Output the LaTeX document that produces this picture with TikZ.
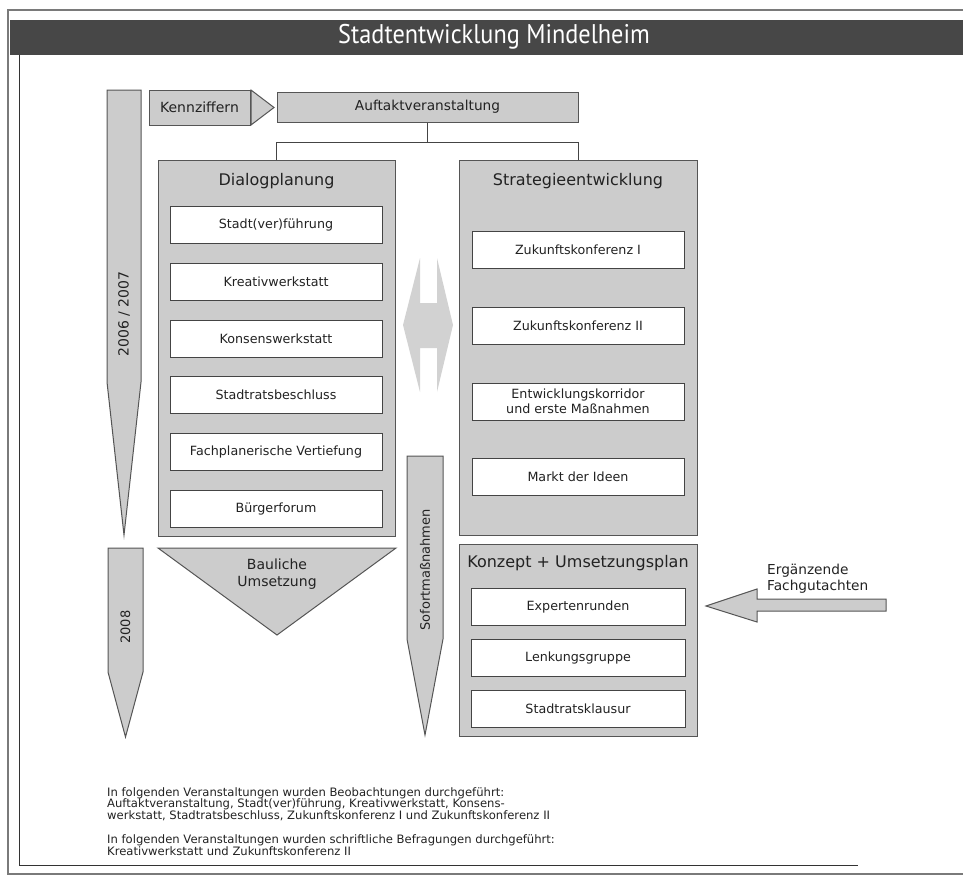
\documentclass[tikz,border=0pt]{standalone}
\usepackage{fontspec}
\setmainfont{DejaVu Sans}
\newfontfamily\titlefont[FakeStretch=0.9]{PT Sans}
\definecolor{boxgray}{HTML}{CCCCCC}
\definecolor{edgec}{HTML}{555555}
\definecolor{titlebg}{HTML}{474747}
\definecolor{framec}{HTML}{7A7A7A}
\definecolor{txt}{HTML}{222222}
\definecolor{dblc}{HTML}{D2D2D2}
\begin{document}
\begin{tikzpicture}[x=1pt,y=-1pt,
  graybox/.style={draw=edgec, fill=boxgray, line width=1pt, inner sep=0pt},
  whitebox/.style={draw=edgec!80!black, fill=white, line width=1pt, minimum width=212pt, minimum height=37pt, inner sep=0pt, font=\fontsize{12.7}{15}\selectfont, text=txt, align=center},
  header/.style={font=\fontsize{16}{19}\selectfont, text=txt, inner sep=0pt},
  label/.style={text=txt, inner sep=0pt},
  shapeline/.style={draw=edgec, fill=boxgray, line width=1pt, line join=miter},
  conn/.style={draw=edgec!80!black, line width=1pt}
]
\useasboundingbox (0,0) rectangle (963,876);
% frame
\fill[titlebg] (10,20) rectangle (963,55);
\draw[framec, line width=2pt] (963,10) -- (8,10) -- (8,874) -- (963,874);
\draw[edgec!60!black, line width=1pt] (19,55) -- (19,865) -- (858,865);
\node[text=white, font=\titlefont\fontsize{27}{30}\selectfont, inner sep=0pt] (title) at (494,37) {Stadtentwicklung Mindelheim};

% timeline arrows
\path[shapeline] (107,90) -- (141,90) -- (141,382) -- (124,535) -- (107,382) -- cycle;
\node[label, rotate=90, font=\fontsize{14}{16}\selectfont] (y1) at (124,314) {2006 / 2007};
\path[shapeline] (108,548) -- (143,548) -- (143,672) -- (125.5,737) -- (108,672) -- cycle;
\node[label, rotate=90, font=\fontsize{13}{15}\selectfont] (y2) at (125.5,627) {2008};
\path[shapeline] (407,456) -- (443,456) -- (443,639) -- (425,735) -- (407,639) -- cycle;
\node[label, rotate=90, font=\fontsize{13}{15}\selectfont] (sofort) at (425,570) {Sofortmaßnahmen};

% top row
\node[graybox, minimum width=101pt, minimum height=35pt, font=\fontsize{14}{17}\selectfont, text=txt] (kenn) at (199.5,107.5) {Kennziffern};
\path[shapeline] (251,90) -- (274,107.5) -- (251,125) -- cycle;
\node[graybox, minimum width=301pt, minimum height=30pt, font=\fontsize{13.7}{16}\selectfont, text=txt] (auf) at (427.5,107) {Auftaktveranstaltung};

% big boxes
\node[graybox, minimum width=237pt, minimum height=376pt] (dialog) at (276.5,348) {};
\node[graybox, minimum width=238pt, minimum height=375pt] (strat) at (578,347.5) {};
\node[graybox, minimum width=238pt, minimum height=192pt] (konz) at (578,640) {};

\node[header] (dialogh) at (276.5,181) {Dialogplanung};
\node[header] (strath) at (578,181) {Strategieentwicklung};
\node[header] (konzh) at (578,563) {Konzept + Umsetzungsplan};

% connectors
\draw[conn] (auf.south) -- ++(0,20) -| (dialog.north);
\draw[conn] (auf.south) -- ++(0,20) -| (strat.north);

% dialog items
\node[whitebox] (d1) at (276,224.5) {Stadt(ver)führung};
\node[whitebox] (d2) at (276,282) {Kreativwerkstatt};
\node[whitebox] (d3) at (276,338.5) {Konsenswerkstatt};
\node[whitebox] (d4) at (276,395) {Stadtratsbeschluss};
\node[whitebox] (d5) at (276,452) {Fachplanerische Vertiefung};
\node[whitebox] (d6) at (276,508.5) {Bürgerforum};

% strategy items
\node[whitebox] (s1) at (578,250) {Zukunftskonferenz I};
\node[whitebox] (s2) at (578,326) {Zukunftskonferenz II};
\node[whitebox, font=\fontsize{12.7}{14.5}\selectfont] (s3) at (578,401.5) {Entwicklungskorridor\\und erste Maßnahmen};
\node[whitebox] (s4) at (578,476.5) {Markt der Ideen};

% concept items
\node[whitebox, minimum width=214pt] (k1) at (578,606.5) {Expertenrunden};
\node[whitebox, minimum width=214pt] (k2) at (578,657.5) {Lenkungsgruppe};
\node[whitebox, minimum width=214pt] (k3) at (578,709) {Stadtratsklausur};

% double arrow
\fill[dblc] (403,325) -- (420,258) -- (420,303) -- (437,303) -- (437,258) -- (453,325) -- (437,392) -- (437,348) -- (420,348) -- (420,392) -- cycle;

% Bauliche Umsetzung
\path[shapeline] (158,548) -- (396,548) -- (277,635) -- cycle;
\node[label, align=center, font=\fontsize{14}{17}\selectfont] (bau) at (277,574) {Bauliche\\Umsetzung};

% Ergaenzende Fachgutachten
\path[shapeline] (706,606) -- (757,589) -- (757,599) -- (886,599) -- (886,611) -- (757,611) -- (757,622) -- cycle;
\node[label, align=left, anchor=west, font=\fontsize{13.7}{16}\selectfont] (erg) at (767,579) {Ergänzende\\Fachgutachten};

% notes
\node[label, align=left, anchor=north west, font=\fontsize{11.6}{11.8}\selectfont] (notes) at (107,787) {In folgenden Veranstaltungen wurden Beobachtungen durchgeführt:\\Auftaktveranstaltung, Stadt(ver)führung, Kreativwerkstatt, Konsens-\\werkstatt, Stadtratsbeschluss, Zukunftskonferenz I und Zukunftskonferenz II\\[11.8pt]In folgenden Veranstaltungen wurden schriftliche Befragungen durchgeführt:\\Kreativwerkstatt und Zukunftskonferenz II};
\end{tikzpicture}
\end{document}
